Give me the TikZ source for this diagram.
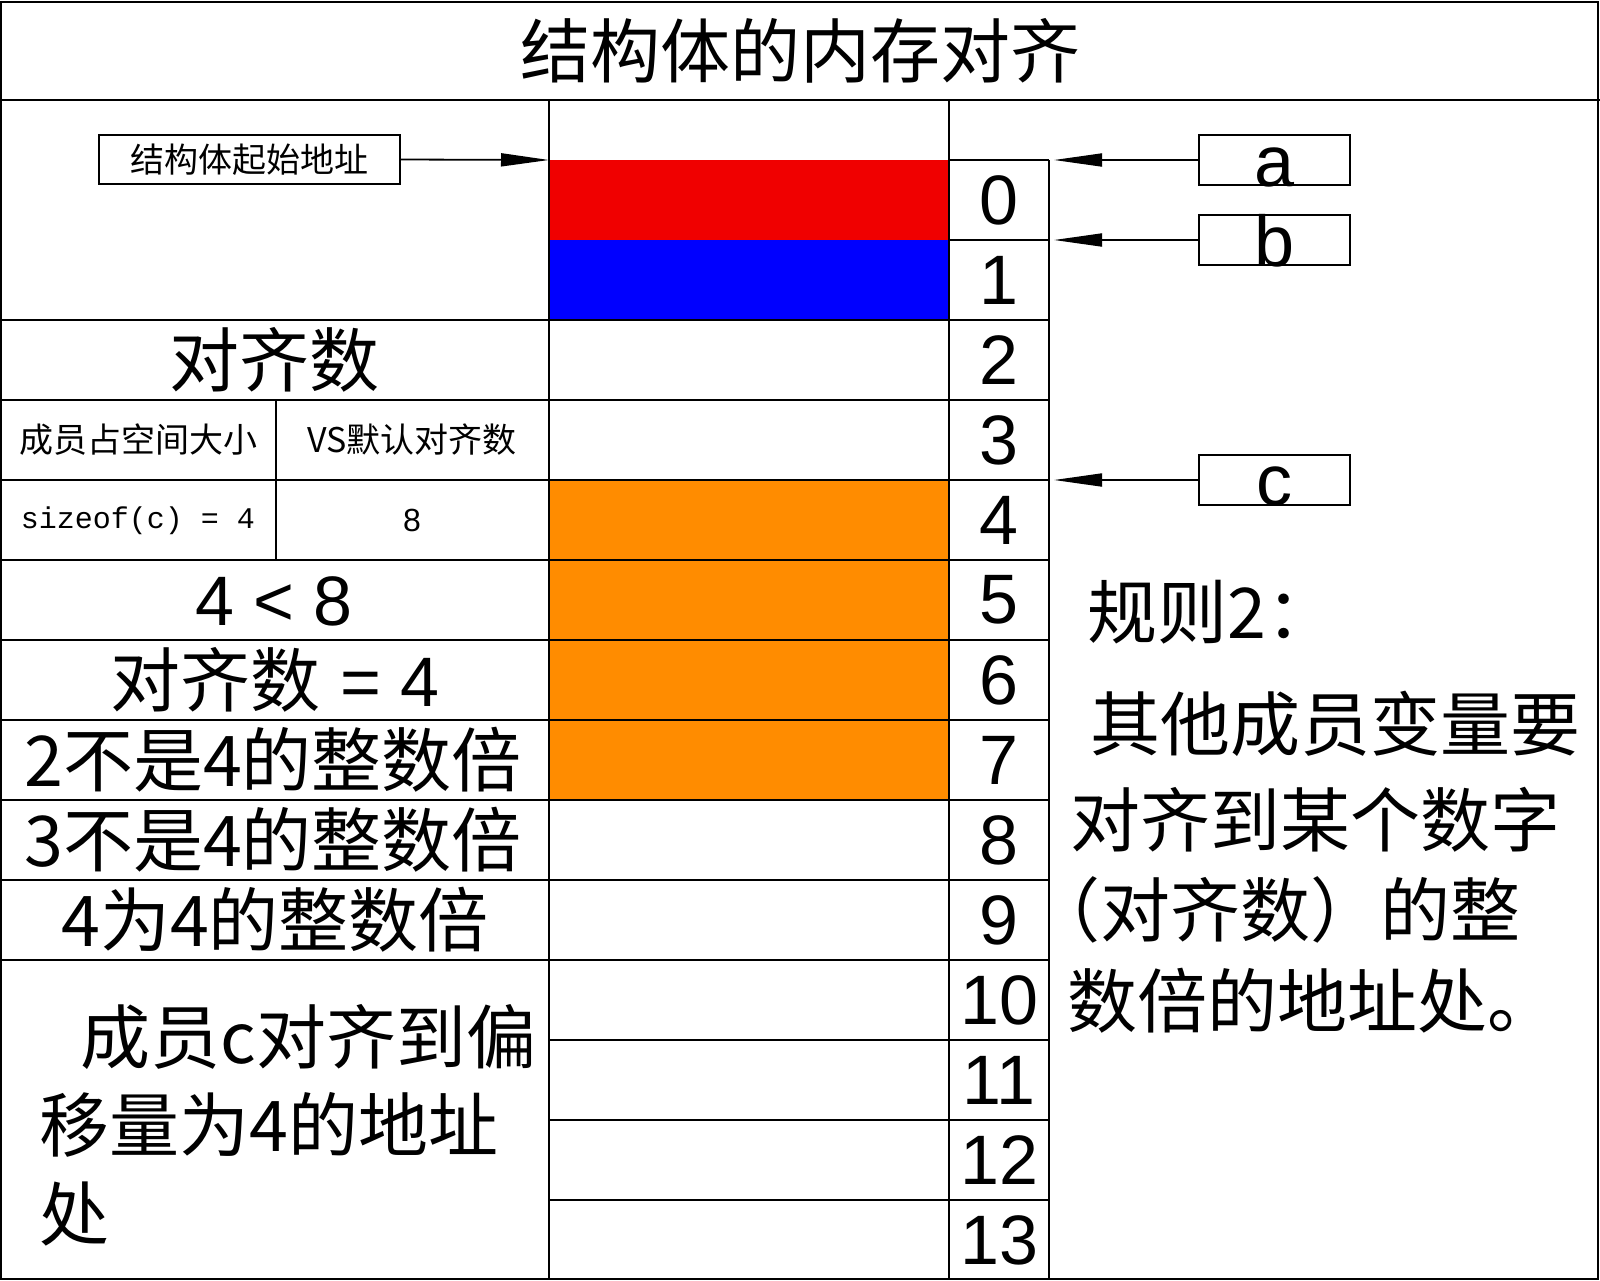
\documentclass[tikz,border=0pt]{standalone}
\usepackage{fontspec}
\setmainfont{Liberation Sans}
\newfontfamily\cjk{Noto Sans CJK SC}
\newfontfamily\monof{Liberation Mono}
\usetikzlibrary{arrows.meta}
\definecolor{memred}{RGB}{240,0,0}
\definecolor{memblue}{RGB}{0,0,255}
\definecolor{memorange}{RGB}{255,140,0}
\begin{document}
\begin{tikzpicture}[x=0.5pt,y=-0.5pt,
  grid/.style={line width=1pt,black},
  cjkbig/.style={font=\cjk\fontsize{35}{42}\selectfont,inner sep=0pt},
  cjksmall/.style={font=\cjk\fontsize{17}{20}\selectfont,inner sep=0pt},
  idx/.style={font=\fontsize{35}{42}\selectfont,inner sep=0pt},
  letter/.style={font=\fontsize{36}{40}\selectfont,inner sep=0pt},
  lbox/.style={draw,line width=0.9pt,minimum width=75.5pt,minimum height=25pt,inner sep=0pt},
  arr/.style={line width=0.9pt,-{Triangle[length=24pt,width=6.5pt]}}]
\useasboundingbox (0,0) rectangle (1600,1280);
% memory fills
\fill[memred] (549,160) rectangle (949,240);
\fill[memblue] (549,240) rectangle (949,320);
\fill[memorange] (549,480) rectangle (949,800);
% grid
\draw[grid] (1,2) rectangle (1598,1279);
\draw[grid] (0,100) -- (1600,100);
\draw[grid] (549,100) -- (549,1280);
\draw[grid] (949,100) -- (949,1280);
\draw[grid] (1049,160) -- (1049,1280);
\foreach \y in {160,240} \draw[grid] (949,\y) -- (1049,\y);
\foreach \y in {320,400,...,960} \draw[grid] (0,\y) -- (1049,\y);
\foreach \y in {1040,1120,1200} \draw[grid] (549,\y) -- (1049,\y);
\draw[grid] (276,400) -- (276,560);
% title
\node[cjkbig] (title) at (800,51) {结构体的内存对齐};
% index numbers
\foreach \i in {0,...,13} \node[idx] (n\i) at (999,{200+80*\i}) {\i};
% start address box and arrow
\node[draw,line width=0.9pt,minimum width=150.5pt,minimum height=24.5pt,inner sep=0pt,cjksmall] (start) at (249.5,159.5) {结构体起始地址};
\coordinate (memtop) at (549,160);
\draw[arr] (start.east) -- (memtop);
% member boxes
\node[lbox] (boxa) at (1274.5,160) {};
\node[lbox] (boxb) at (1274.5,240) {};
\node[lbox] (boxc) at (1274.5,480) {};
\node[letter,anchor=base] (la) at (1274.5,186) {a};
\node[letter,anchor=base] (lb) at (1274.5,266) {b};
\node[letter,anchor=base] (lc) at (1274.5,505) {c};
\coordinate (tipa) at (1054,160);
\coordinate (tipb) at (1054,240);
\coordinate (tipc) at (1054,480);
\draw[arr] (boxa.west) -- (tipa);
\draw[arr] (boxb.west) -- (tipb);
\draw[arr] (boxc.west) -- (tipc);
% left table
\node[cjkbig] (t1) at (274,360) {对齐数};
\node[cjksmall] (t2) at (138,440) {成员占空间大小};
\node[cjksmall] (t3) at (412,440) {VS默认对齐数};
\node[font=\monof\fontsize{15}{18}\selectfont,inner sep=0pt] (t4) at (138,521) {sizeof(c) = 4};
\node[font=\fontsize{16}{18}\selectfont,inner sep=0pt] (t5) at (412,520) {8};
\node[idx] (t6) at (274,601) {4 < 8};
\node[inner sep=0pt] (t7) at (275,680) {{\cjk\fontsize{35}{42}\selectfont 对齐数}{\fontsize{35}{42}\selectfont\ = 4}};
\node[cjkbig] (t8) at (273,760) {2不是4的整数倍};
\node[cjkbig] (t9) at (273,840) {3不是4的整数倍};
\node[cjkbig] (t10) at (275,920) {4为4的整数倍};
\node[cjkbig,anchor=west] (t11) at (80,1037) {成员c对齐到偏};
\node[cjkbig,anchor=west] (t12) at (39,1125) {移量为4的地址};
\node[cjkbig,anchor=west] (t13) at (39,1214) {处};
% rule text
\node[cjkbig,anchor=west] (r0) at (1087,612) {规则2：};
\node[cjkbig,anchor=west] (r1) at (1090,724) {其他成员变量要};
\node[cjkbig,anchor=west] (r2) at (1070,820) {对齐到某个数字};
\node[cjkbig,anchor=west] (r3) at (1030,910) {（对齐数）的整};
\node[cjkbig,anchor=west] (r4) at (1067,1001) {数倍的地址处。};
\end{tikzpicture}
\end{document}
